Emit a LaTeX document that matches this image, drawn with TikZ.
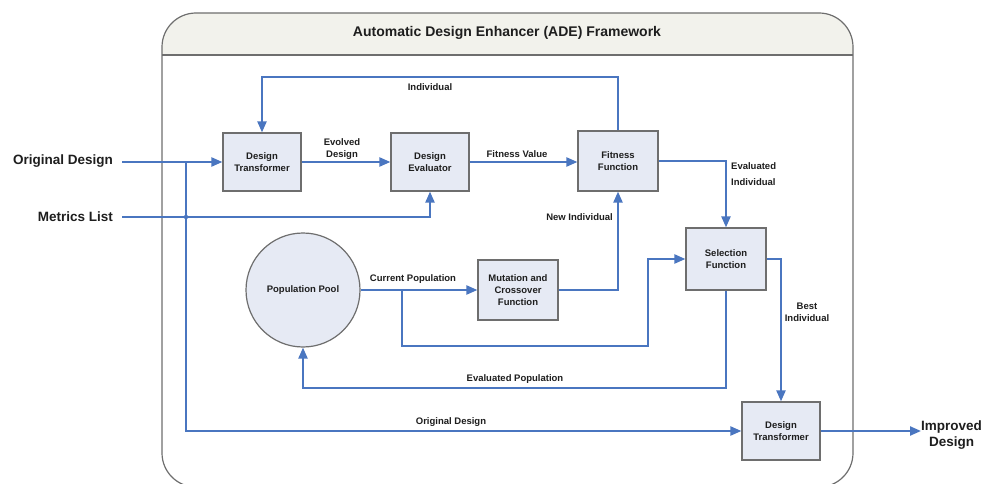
\documentclass[tikz,border=0pt]{standalone}
\usepackage{fontspec}
\setmainfont{Liberation Sans}
\usetikzlibrary{arrows.meta}
\definecolor{flowblue}{RGB}{74,118,192}
\definecolor{boxfill}{RGB}{230,234,244}
\definecolor{boxline}{RGB}{110,110,110}
\definecolor{headfill}{RGB}{242,242,236}
\definecolor{txt}{RGB}{30,30,30}
\tikzset{
  procbox/.style={draw=boxline, line width=1.2pt, fill=boxfill, align=center, text=txt,
    font=\fontsize{9.5}{12}\selectfont\bfseries, inner sep=0pt},
  flow/.style={draw=flowblue, line width=2.2pt},
  arr/.style={flow, -{Triangle[length=11pt,width=9pt]}},
  lbl/.style={text=txt, font=\fontsize{9.5}{12}\selectfont\bfseries, inner sep=0pt},
  biglbl/.style={text=txt, font=\fontsize{13.5}{16.5}\selectfont\bfseries, inner sep=0pt},
}
\begin{document}
\begin{tikzpicture}[x=1pt,y=-1pt]
\useasboundingbox (0,0) rectangle (986,484);
\begin{scope}
\clip (0,0) rectangle (986,484);
% framework
\fill[white, rounded corners=34pt] (162,13) rectangle (853,487);
\begin{scope}
\clip (0,0) rectangle (986,55);
\fill[headfill, rounded corners=34pt] (162,13) rectangle (853,487);
\end{scope}
\draw[boxline, line width=1.2pt, rounded corners=34pt] (162,13) rectangle (853,487);
\draw[boxline, line width=1.2pt] (162,55) -- (853,55);
\end{scope}
\node[biglbl, font=\fontsize{14}{16}\selectfont\bfseries] (title) at (507,33) {Automatic Design Enhancer (ADE) Framework};

% nodes
\node[procbox, minimum width=78pt, minimum height=58pt] (dt1) at (262,162) {Design\\Transformer};
\node[procbox, minimum width=78pt, minimum height=58pt] (de) at (430,162) {Design\\Evaluator};
\node[procbox, minimum width=80pt, minimum height=60pt] (ff) at (618,161) {Fitness\\Function};
\node[procbox, minimum width=80pt, minimum height=62pt] (sf) at (726,259) {Selection\\Function};
\node[procbox, minimum width=80pt, minimum height=60pt] (mc) at (518,290) {Mutation and\\Crossover\\Function};
\node[procbox, circle, minimum size=114pt] (pp) at (303,290) {Population Pool};
\node[procbox, minimum width=78pt, minimum height=58pt] (dt2) at (781,431) {Design\\Transformer};

\node[biglbl, anchor=east] (orig) at (113,161) {Original Design};
\node[biglbl, anchor=east] (metrics) at (113,217) {Metrics List};
\node[biglbl, anchor=west, align=center] (imp) at (921,435) {Improved\\Design};

% coordinates
\coordinate (j1) at (186,162);
\coordinate (top) at (0,77);
\coordinate (b1) at (402,290);
\coordinate (b2) at (402,346);
\coordinate (b3) at (648,346);
\coordinate (ev) at (0,388);

% connectors
\draw[arr] ([xshift=9pt]orig.east |- dt1.west) -- (dt1.west);
\draw[arr] (j1) |- (dt2.west);
\draw[arr] ([xshift=9pt]metrics.east) -| (de.south);
\fill[flowblue] (186,217) circle (2.2pt);
\draw[arr] (ff.north) -- (ff.north |- top) -| (dt1.north);
\draw[arr] (dt1.east) -- (de.west);
\draw[arr] (de.east) -- (de.east -| ff.west);
\draw[arr] (ff.east) -| (sf.north);
\draw[arr] (mc.east) -| (ff.south);
\draw[arr] (pp.east) -- (mc.west);
\draw[arr] (b1) -- (b2) -- (b3) |- (sf.west);
\draw[arr] (sf.south) -- (sf.south |- ev) -| (pp.south);
\draw[arr] (sf.east) -| (dt2.north);
\draw[arr] (dt2.east) -- (dt2.east -| imp.west);

% labels
\node[lbl] at (430,87) {Individual};
\node[lbl, align=center] at (342,149) {Evolved\\Design};
\node[lbl] at (517,154) {Fitness Value};
\node[lbl, align=left, anchor=west] at (731,174) {Evaluated\\[4pt]Individual};
\node[lbl, anchor=east] at (613,217) {New Individual};
\node[lbl] at (413,279) {Current Population};
\node[lbl] at (515,379) {Evaluated Population};
\node[lbl, align=center] at (807,312) {Best\\Individual};
\node[lbl] at (451,422) {Original Design};
\end{tikzpicture}
\end{document}
